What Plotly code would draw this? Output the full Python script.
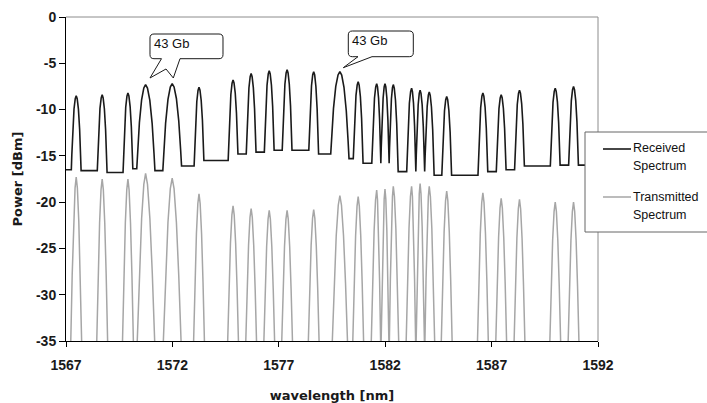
import plotly.graph_objects as go

# ---------------- data ----------------
# channel centre wavelengths [nm]
CHANNEL_NM = [1567.48, 1568.70, 1569.91, 1570.74, 1571.99, 1573.25, 1574.85, 1575.70,
              1576.55, 1577.39, 1578.64, 1579.87, 1580.73, 1581.60, 1581.99, 1582.38,
              1583.24, 1583.64, 1584.07, 1584.89, 1586.59, 1587.45, 1588.31, 1589.99,
              1590.85]
# received spectrum: peak power of every channel [dBm]
RX_PEAK_DBM = [-8.5, -8.4, -8.2, -7.3, -7.2, -7.6, -6.8, -6.1, -5.8, -5.7, -5.9, -5.9,
               -7.0, -7.2, -7.2, -7.3, -7.7, -7.9, -8.1, -8.6, -8.2, -8.4, -7.9, -7.7,
               -7.5]
# received spectrum: noise floor before / between / after channels [dBm]
RX_FLOOR_DBM = [-16.5, -16.6, -16.8, -16.4, -16.6, -16.1, -15.5, -14.8, -14.6, -14.4,
                -14.4, -14.8, -15.3, -15.8, -15.8, -15.8, -16.7, -16.7, -16.7, -17.1,
                -17.1, -16.7, -16.5, -16.1, -16.0, -16.0]
# transmitted spectrum: peak power of every channel [dBm]
TX_PEAK_DBM = [-17.3, -17.5, -17.5, -16.9, -17.4, -19.1, -20.4, -20.7, -20.9, -20.9,
               -20.8, -19.3, -19.4, -18.7, -18.6, -18.3, -18.3, -18.0, -18.3, -18.8,
               -19.0, -19.6, -19.7, -20.0, -20.0]
# transmitted spectrum falls below the bottom of the chart between channels [dBm]
TX_FLOOR_DBM = -36.5
# spectral half-width of each channel at its foot [nm]
RX_HALF_NM = [0.23, 0.23, 0.23, 0.44, 0.44, 0.23, 0.23, 0.23, 0.23, 0.23, 0.23, 0.43,
              0.23, 0.23, 0.23, 0.23, 0.23, 0.23, 0.23, 0.23, 0.23, 0.23, 0.23, 0.23,
              0.23]
TX_HALF_NM = [0.27, 0.27, 0.27, 0.45, 0.44, 0.27, 0.27, 0.27, 0.27, 0.27, 0.27, 0.38,
              0.27, 0.27, 0.27, 0.27, 0.27, 0.27, 0.27, 0.27, 0.27, 0.27, 0.27, 0.27,
              0.27]
# shape of one channel: distance from centre (fraction of half-width) -> level fraction
RX_PROFILE_D = [1.0, 0.9, 0.7, 0.45, 0.2, 0.0]
RX_PROFILE_L = [0.0, 0.2, 0.55, 0.82, 0.96, 1.0]
TX_PROFILE_D = [1.0, 0.7, 0.45, 0.2, 0.0]
TX_PROFILE_L = [0.0, 0.45, 0.75, 0.94, 1.0]

X_RANGE = [1567, 1592]
Y_RANGE = [-35, 0]
X_TICKS = [1567, 1572, 1577, 1582, 1587, 1592]
Y_TICKS = [0, -5, -10, -15, -20, -25, -30, -35]
CALLOUT_TEXT = ["43 Gb", "43 Gb"]
LEGEND_TEXT = [["Received", "Spectrum"], ["Transmitted", "Spectrum"]]


def spectrum(peaks, floors_before, floors_after, halves, prof_d, prof_l, start, end):
    xs, ys = [start], [floors_before[0]]
    n = len(CHANNEL_NM)
    for i in range(n):
        c = CHANNEL_NM[i]
        gap_l = (c - CHANNEL_NM[i - 1]) / 2 if i > 0 else 9.0
        gap_r = (CHANNEL_NM[i + 1] - c) / 2 if i < n - 1 else 9.0
        wl = min(halves[i], gap_l)
        wr = min(halves[i], gap_r)
        fl, fr = floors_before[i], floors_after[i]
        for d, lv in zip(prof_d, prof_l):
            xs.append(c - d * wl)
            ys.append(fl + lv * (peaks[i] - fl))
        for d, lv in zip(reversed(prof_d[:-1]), reversed(prof_l[:-1])):
            xs.append(c + d * wr)
            ys.append(fr + lv * (peaks[i] - fr))
    xs.append(end)
    ys.append(floors_after[-1])
    return xs, ys


rx_x, rx_y = spectrum(RX_PEAK_DBM, RX_FLOOR_DBM[:-1], RX_FLOOR_DBM[1:], RX_HALF_NM,
                      RX_PROFILE_D, RX_PROFILE_L, X_RANGE[0], X_RANGE[1])
tx_fl = [TX_FLOOR_DBM] * (len(CHANNEL_NM) + 1)
tx_x, tx_y = spectrum(TX_PEAK_DBM, tx_fl[:-1], tx_fl[1:], TX_HALF_NM,
                      TX_PROFILE_D, TX_PROFILE_L, X_RANGE[0], X_RANGE[1])

# ---------------- layout geometry (pixels) ----------------
W, H = 707, 403
ML, MR, MT, MB = 66, 109, 17, 62
PW, PH = W - ML - MR, H - MT - MB


def px(xp):
    return (xp - ML) / PW


def py(yp):
    return (H - MB - yp) / PH


def path(points):
    out = []
    for k, p in enumerate(points):
        if p[0] == "Q":
            out.append("Q %.5f,%.5f %.5f,%.5f" % (px(p[1]), py(p[2]), px(p[3]), py(p[4])))
        else:
            out.append(("M" if k == 0 else "L") + " %.5f,%.5f" % (px(p[0]), py(p[1])))
    return " ".join(out) + " Z"


def callout(l, r, t, b, tail):
    rr = 4
    pts = [(l + rr, t), (r - rr, t), ("Q", r, t, r, t + rr), (r, b - rr),
           ("Q", r, b, r - rr, b)]
    pts += tail
    pts += [(l + rr, b), ("Q", l, b, l, b - rr), (l, t + rr), ("Q", l, t, l + rr, t)]
    return path(pts)


fig = go.Figure()
fig.add_trace(go.Scatter(x=tx_x, y=tx_y, mode="lines", name="Transmitted Spectrum",
                         line=dict(color="#a6a6a6", width=1.5), showlegend=False))
fig.add_trace(go.Scatter(x=rx_x, y=rx_y, mode="lines", name="Received Spectrum",
                         line=dict(color="#1a1a1a", width=1.6), showlegend=False))

shapes = []
# plot-area frame (top and right edges)
shapes.append(dict(type="line", xref="paper", yref="paper", x0=0, x1=1, y0=1, y1=1,
                   line=dict(color="#8c8c8c", width=1)))
shapes.append(dict(type="line", xref="paper", yref="paper", x0=1, x1=1, y0=0, y1=1,
                   line=dict(color="#8c8c8c", width=1)))
# callouts
shapes.append(dict(type="path", xref="paper", yref="paper", layer="above",
                   path=callout(150, 223, 34, 58.7,
                                [(180, 58.7), (173.3, 78), (166, 69), (150, 78), (161.5, 58.7)]),
                   fillcolor="white", line=dict(color="#1a1a1a", width=1)))
shapes.append(dict(type="path", xref="paper", yref="paper", layer="above",
                   path=callout(348.3, 413.3, 31, 56.7,
                                [(372, 56.7), (343.3, 67.7), (358, 56.7)]),
                   fillcolor="white", line=dict(color="#1a1a1a", width=1)))
# legend box
shapes.append(dict(type="rect", xref="paper", yref="paper", layer="above",
                   x0=px(585), x1=px(730), y0=py(232), y1=py(132),
                   fillcolor="white", line=dict(color="#666666", width=1)))
shapes.append(dict(type="line", xref="paper", yref="paper", layer="above",
                   x0=px(603), x1=px(631), y0=py(149), y1=py(149),
                   line=dict(color="#1a1a1a", width=1.6)))
shapes.append(dict(type="line", xref="paper", yref="paper", layer="above",
                   x0=px(603), x1=px(631), y0=py(197), y1=py(197),
                   line=dict(color="#a6a6a6", width=1.5)))

annotations = []
for (tx, ty), txt in zip([(153, 43), (351, 40.5)], CALLOUT_TEXT):
    annotations.append(dict(xref="paper", yref="paper", x=px(tx), y=py(ty), text=txt,
                            showarrow=False, xanchor="left", yanchor="middle", borderpad=0,
                            font=dict(family="Liberation Sans", size=13, color="#111")))
for (ly0, ly1), lines in zip([(148, 166), (197, 215)], LEGEND_TEXT):
    for yy, txt in zip((ly0, ly1), lines):
        annotations.append(dict(xref="paper", yref="paper", x=px(632), y=py(yy), text=txt,
                                showarrow=False, xanchor="left", yanchor="middle", borderpad=0,
                                font=dict(family="Liberation Sans", size=12.5, color="#111")))

fig.update_layout(
    width=W, height=H,
    margin=dict(l=ML, r=MR, t=MT, b=MB, autoexpand=False),
    paper_bgcolor="white", plot_bgcolor="white",
    shapes=shapes, annotations=annotations,
    xaxis=dict(range=X_RANGE, tickvals=X_TICKS, ticktext=[str(v) for v in X_TICKS],
               showgrid=False, zeroline=False, showline=True, linecolor="black",
               linewidth=1, ticks="outside", ticklen=5, tickcolor="black",
               ticklabelstandoff=6,
               tickfont=dict(family="Liberation Sans", size=14, color="#1a1a1a", weight="bold"),
               title=dict(text="wavelength [nm]", standoff=19,
                          font=dict(family="DejaVu Sans", size=13, color="#1a1a1a",
                                    weight="bold"))),
    yaxis=dict(range=Y_RANGE, tickvals=Y_TICKS, ticktext=[str(v) for v in Y_TICKS],
               showgrid=False, zeroline=False, showline=True, linecolor="black",
               linewidth=1, ticks="outside", ticklen=6, tickcolor="black",
               tickfont=dict(family="Liberation Sans", size=14, color="#1a1a1a", weight="bold"),
               title=dict(text="Power [dBm]", standoff=10,
                          font=dict(family="DejaVu Sans", size=13, color="#1a1a1a",
                                    weight="bold"))),
)

fig.write_html("out.html", config={"displayModeBar": False},
               post_script="document.body.style.margin='0';")
